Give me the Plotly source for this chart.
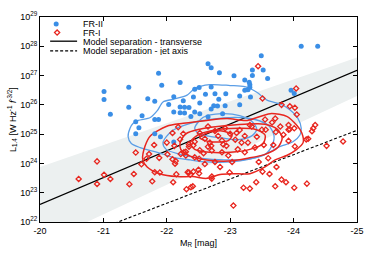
import numpy as np
import plotly.graph_objects as go

# ---------------- data (M_R in mag, log10 L_1.4) ----------------
FR2_M = [-21.01, -21.01, -21.11, -21.40, -21.40, -21.70, -21.61, -21.51, -21.56, -21.51,
         -21.81, -21.81, -21.87, -21.87, -21.92, -22.03, -22.11, -22.21, -22.11, -22.21,
         -22.28, -22.21, -22.28, -22.35, -22.26, -22.38, -22.42, -22.44, -22.51, -22.52,
         -22.61, -22.65, -22.70, -22.70, -22.70, -22.65, -22.74, -22.80, -22.76, -22.83,
         -22.82, -22.93, -22.92, -22.88, -23.06, -23.15, -23.15, -23.23, -23.30, -23.31,
         -23.31, -23.28, -23.23, -23.32, -23.35, -23.52, -23.35, -23.49, -23.59, -23.96,
         -24.01, -24.12, -24.38, -21.81, -21.90, -22.11, -22.44, -22.52]
FR2_L = [26.46, 26.18, 25.68, 26.60, 25.92, 26.21, 25.63, 25.42, 25.22, 25.01,
         26.12, 25.50, 25.50, 27.08, 26.67, 26.01, 26.28, 26.76, 25.76, 25.73,
         25.72, 25.93, 25.92, 25.91, 26.14, 25.60, 26.27, 26.53, 26.59, 26.06,
         26.36, 27.40, 27.27, 26.61, 25.86, 25.59, 25.97, 25.96, 26.38, 27.10,
         26.19, 26.38, 25.97, 25.70, 26.99, 26.30, 26.00, 26.85, 26.77, 26.69,
         26.60, 26.52, 26.50, 26.27, 27.19, 27.19, 27.00, 27.68, 26.90, 26.50,
         26.39, 28.00, 28.00, 25.01, 24.91, 24.73, 25.76, 25.70]

FR1_M = [-20.61, -20.90, -20.90, -21.01, -21.11, -21.41, -21.48, -21.51, -21.60, -21.68,
         -21.72, -21.77, -21.80, -21.81, -21.89, -21.88, -22.00, -22.01, -22.09, -22.09,
         -22.10, -22.13, -22.15, -22.21, -22.22, -22.30, -22.31, -22.33, -22.35, -22.12,
         -22.14, -22.27, -22.30, -22.35, -22.42, -22.35, -22.37, -22.42, -22.50, -22.51,
         -22.38, -22.44, -22.51, -22.58, -22.65, -22.70, -22.71, -22.65, -22.71, -22.71,
         -22.87, -22.89, -22.94, -22.97, -22.99, -23.05, -23.10, -23.18, -23.21, -23.31,
         -23.31, -23.34, -23.41, -23.45, -23.50, -23.51, -23.53, -23.56, -23.60, -23.62,
         -23.68, -23.71, -23.72, -23.73, -23.79, -23.81, -23.84, -23.88, -23.92, -23.92,
         -24.01, -24.01, -24.02, -24.20, -24.23, -24.21, -24.29, -24.31, -24.34, -24.52,
         -24.78, -23.44, -23.51, -23.81, -23.94, -24.02, -24.05, -24.04,
         -22.52, -22.60, -22.76, -22.81, -22.92, -23.00, -23.08, -23.15, -23.23, -23.28,
         -23.12, -23.03, -22.76, -22.60, -22.84, -23.23, -23.39, -23.42, -22.52, -22.44,
         -22.26, -22.18, -23.55, -23.66, -22.68, -22.87, -23.71, -23.92, -23.94, -22.41]
FR1_L = [23.47, 24.07, 23.30, 23.61, 23.47, 23.29, 23.64, 24.37, 23.97, 24.16,
         24.32, 23.39, 24.63, 23.70, 23.69, 24.19, 24.71, 24.31, 25.04, 24.14,
         23.36, 23.99, 23.63, 24.82, 24.32, 24.40, 23.12, 23.70, 24.65, 24.60,
         24.08, 24.38, 24.27, 24.57, 24.62, 23.69, 23.61, 23.72, 23.78, 23.66,
         23.19, 24.21, 24.16, 24.35, 24.57, 24.60, 24.44, 25.26, 23.55, 23.48,
         24.38, 24.65, 24.60, 24.27, 23.69, 22.56, 25.04, 24.71, 23.17, 23.14,
         25.31, 25.26, 23.36, 24.05, 25.15, 23.72, 24.63, 25.15, 24.18, 23.64,
         24.63, 23.22, 25.07, 23.88, 25.26, 23.45, 24.98, 23.36, 25.15, 24.77,
         25.20, 23.17, 24.58, 24.82, 24.84, 23.31, 25.10, 25.20, 25.31, 24.60,
         24.75, 27.32, 26.22, 26.00, 25.95, 25.90, 25.67, 26.56,
         25.04, 24.84, 25.11, 24.94, 25.20, 25.01, 24.81, 25.14, 24.94, 24.71,
         24.48, 24.05, 24.05, 23.98, 23.88, 24.38, 24.54, 24.91, 24.45, 24.74,
         25.01, 25.24, 25.50, 25.40, 24.71, 24.78, 25.53, 25.31, 25.17, 23.22]

# model separations and shaded uncertainty band
SEP_M = [-20, -25]
SEP_TRANSVERSE_L = [22.60, 27.18]
SEP_JETAXIS_L = [20.98, 25.13]
BAND_M = [-20, -25, -25, -20, -20]
BAND_L = [23.88, 27.62, 26.30, 21.25, 23.88]

# density contours (M_R, log10 L)
FR2_C1_M = [-21.44, -21.39, -21.42, -21.47, -21.55, -21.74, -21.85, -21.94, -22.10, -22.32, -22.44,
            -22.68, -23.00, -23.23, -23.42, -23.58, -23.79, -23.94, -24.07, -24.12, -24.10, -23.99,
            -23.79, -23.55, -23.31, -23.00, -22.63, -22.37, -22.10, -21.85, -21.58, -21.44]
FR2_C1_L = [24.68, 24.91, 25.20, 25.37, 25.47, 25.57, 25.80, 26.10, 26.19, 26.33, 26.56,
            26.69, 26.66, 26.62, 26.43, 26.16, 26.03, 25.83, 25.53, 25.20, 24.97, 24.74,
            24.58, 24.31, 24.15, 24.05, 24.05, 24.12, 24.21, 24.38, 24.54, 24.68]
FR2_C2_M = [-21.94, -22.08, -22.37, -22.68, -23.08, -23.39, -23.60, -23.69, -23.66, -23.55,
            -23.28, -22.92, -22.52, -22.21, -21.99, -21.94]
FR2_C2_L = [24.71, 25.11, 25.37, 25.50, 25.57, 25.50, 25.30, 24.97, 24.61, 24.31,
            24.15, 24.12, 24.18, 24.31, 24.48, 24.71]
FR2_C3_M = [-22.44, -22.57, -22.87, -23.15, -23.34, -23.42, -23.34, -23.12, -22.87, -22.63, -22.49, -22.44]
FR2_C3_L = [25.20, 25.57, 25.70, 25.63, 25.44, 25.17, 24.94, 24.81, 24.87, 24.94, 25.04, 25.20]

FR1_C1_M = [-21.66, -21.74, -22.00, -22.26, -22.63, -22.95, -23.27, -23.63, -23.90, -24.05, -24.13,
            -24.15, -24.05, -23.90, -23.71, -23.55, -23.31, -23.04, -22.84, -22.63, -22.41, -22.16,
            -21.89, -21.69, -21.62, -21.66]
FR1_C1_L = [24.61, 24.94, 25.27, 25.37, 25.47, 25.53, 25.47, 25.70, 25.60, 25.30, 25.04,
            24.71, 24.48, 24.28, 24.12, 23.88, 23.65, 23.65, 23.62, 23.49, 23.55, 23.55,
            23.65, 23.88, 24.15, 24.61]
FR1_C2_M = [-22.21, -22.30, -22.52, -22.84, -23.23, -23.55, -23.74, -23.82, -23.75, -23.55,
            -23.28, -22.97, -22.63, -22.37, -22.22, -22.21]
FR1_C2_L = [24.71, 25.01, 25.17, 25.27, 25.34, 25.34, 25.17, 24.87, 24.54, 24.31,
            24.18, 24.08, 24.12, 24.25, 24.48, 24.71]
FR1_C3_M = [-22.37, -22.49, -22.76, -23.12, -23.39, -23.55, -23.52, -23.31, -23.00, -22.68, -22.44, -22.37]
FR1_C3_L = [24.71, 24.97, 25.14, 25.20, 25.17, 24.97, 24.68, 24.48, 24.38, 24.38, 24.48, 24.71]
FR1_C4_M = [-22.52, -22.63, -22.87, -23.03, -22.97, -22.68, -22.52]
FR1_C4_L = [24.87, 25.04, 25.11, 24.97, 24.78, 24.74, 24.87]

Y_TICK_EXP = [22, 23, 24, 25, 26, 27, 28, 29]
X_TICKS = [-20, -21, -22, -23, -24, -25]

BLUE = "#3a8ee6"
BLUE_C = "#5b9ee6"
RED = "#e8261f"
FONT = "Liberation Sans, Arial, sans-serif"


def p10(a):
    return np.power(10.0, np.array(a, dtype=float))


fig = go.Figure()

fig.add_trace(go.Scatter(x=BAND_M, y=p10(BAND_L), mode="lines", fill="toself",
                         fillcolor="#ecf0f0", line=dict(width=0), hoverinfo="skip"))
fig.add_trace(go.Scatter(x=SEP_M, y=p10(SEP_TRANSVERSE_L), mode="lines",
                         line=dict(color="black", width=1.3)))
fig.add_trace(go.Scatter(x=SEP_M, y=p10(SEP_JETAXIS_L), mode="lines",
                         line=dict(color="black", width=1.1, dash="3px,2px")))

for cm, cl in [(FR2_C1_M, FR2_C1_L), (FR2_C2_M, FR2_C2_L), (FR2_C3_M, FR2_C3_L)]:
    fig.add_trace(go.Scatter(x=cm, y=p10(cl), mode="lines",
                             line=dict(color=BLUE_C, width=1.3, shape="spline", smoothing=0.8)))
for cm, cl in [(FR1_C1_M, FR1_C1_L), (FR1_C2_M, FR1_C2_L), (FR1_C3_M, FR1_C3_L), (FR1_C4_M, FR1_C4_L)]:
    fig.add_trace(go.Scatter(x=cm, y=p10(cl), mode="lines",
                             line=dict(color=RED, width=1.5, shape="spline", smoothing=0.8)))

fig.add_trace(go.Scatter(x=FR2_M, y=p10(FR2_L), mode="markers",
                         marker=dict(color=BLUE, size=5, line=dict(width=0))))
fig.add_trace(go.Scatter(x=FR1_M, y=p10(FR1_L), mode="markers",
                         marker=dict(symbol="diamond-open", color=RED, size=4,
                                     line=dict(width=1.3, color=RED))))

# manual legend (overlay axes in [0,1] units)
LEG_TEXT = ["FR-II", "FR-I", "Model separation - transverse", "Model separation - jet axis"]
LEG_Y = [0.966, 0.924, 0.882, 0.835]
fig.add_trace(go.Scatter(x=[0.051], y=[LEG_Y[0]], xaxis="x2", yaxis="y2", mode="markers",
                         marker=dict(color=BLUE, size=5), cliponaxis=False))
fig.add_trace(go.Scatter(x=[0.054], y=[LEG_Y[1]], xaxis="x2", yaxis="y2", mode="markers",
                         marker=dict(symbol="diamond-open", color=RED, size=4,
                                     line=dict(width=1.3, color=RED)), cliponaxis=False))
fig.add_trace(go.Scatter(x=[0.032, 0.117], y=[LEG_Y[2]] * 2, xaxis="x2", yaxis="y2", mode="lines",
                         line=dict(color="black", width=1.3)))
fig.add_trace(go.Scatter(x=[0.032, 0.117], y=[LEG_Y[3]] * 2, xaxis="x2", yaxis="y2", mode="lines",
                         line=dict(color="black", width=1.1, dash="3px,2px")))
for t, yy in zip(LEG_TEXT, LEG_Y):
    fig.add_annotation(x=0.131, y=yy, xref="paper", yref="paper", text=t, showarrow=False,
                       xanchor="left", yanchor="middle", height=9, borderpad=0,
                       font=dict(size=9, family=FONT, color="black"))

axis_common = dict(showline=True, linecolor="black", linewidth=1, mirror="ticks",
                   ticks="inside", ticklen=4, tickwidth=1, tickcolor="black",
                   showgrid=False, zeroline=False,
                   tickfont=dict(size=9, family=FONT, color="black"))

fig.update_layout(
    width=374, height=261,
    margin=dict(l=40, r=17, t=10, b=39),
    paper_bgcolor="white", plot_bgcolor="white",
    showlegend=False,
    font=dict(family=FONT, size=9, color="black"),
    xaxis=dict(range=[-20, -25], tickvals=X_TICKS, ticktext=[str(v) for v in X_TICKS],
               title=dict(text="M<sub>R</sub> [mag]", font=dict(size=9, family=FONT), standoff=4),
               **axis_common),
    yaxis=dict(type="log", range=[22, 29], tickvals=[10.0 ** e for e in Y_TICK_EXP],
               ticktext=["10<sup>%d</sup>" % e for e in Y_TICK_EXP],
               title=dict(text="L<sub>1.4</sub> [W Hz<sup>-1</sup> <i>f</i><sup>-3/2</sup>]",
                          font=dict(size=9, family=FONT), standoff=2),
               **axis_common),
    xaxis2=dict(range=[0, 1], overlaying="x", visible=False, anchor="y2"),
    yaxis2=dict(range=[0, 1], overlaying="y", visible=False, anchor="x2"),
)

fig.write_html("out.html", config={"displayModeBar": False},
               post_script="document.body.style.margin='0px';")
